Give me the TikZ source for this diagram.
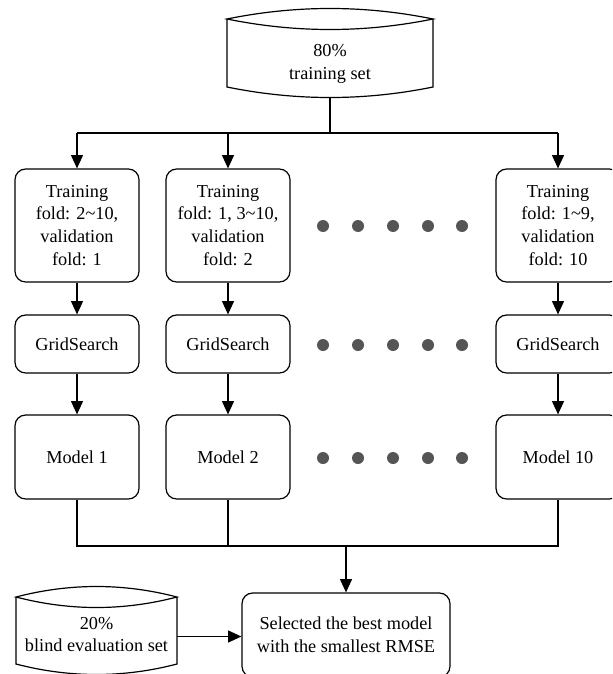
\documentclass[tikz,border=0pt]{standalone}
\usepackage{fontspec}
\setmainfont{Liberation Serif}
\usetikzlibrary{arrows.meta,calc}
\definecolor{dotgray}{HTML}{555555}
\newcommand{\dbshape}[5]{%
  \draw ($(#1.center)+(-#2,#3)$) .. controls ($(#1.center)+(-#2/3,#3-#5)$) and ($(#1.center)+(#2/3,#3-#5)$) .. ($(#1.center)+(#2,#3)$)
        .. controls ($(#1.center)+(#2/3,#3+#5)$) and ($(#1.center)+(-#2/3,#3+#5)$) .. cycle;
  \draw ($(#1.center)+(-#2,#3)$) -- ($(#1.center)+(-#2,#4)$)
        .. controls ($(#1.center)+(-#2/3,#4+#5)$) and ($(#1.center)+(#2/3,#4+#5)$) .. ($(#1.center)+(#2,#4)$)
        -- ($(#1.center)+(#2,#3)$);
}
\begin{document}
\begin{tikzpicture}[x=0.75pt,y=-0.75pt,line width=0.9pt,
  txt/.style={align=center,inner sep=0pt,font=\fontsize{13.7}{17.2}\selectfont},
  box/.style={txt,draw,rounded corners=8pt,minimum width=93pt},
  foldbox/.style={box,minimum height=84.75pt},
  gridbox/.style={box,minimum height=43.5pt},
  modelbox/.style={box,minimum height=63pt},
  arr/.style={-{Triangle[length=10pt,width=9pt]}},
  dot/.style={fill=dotgray}]
\useasboundingbox (0,0) rectangle (612,674);
\clip (0,0) rectangle (612,674);

% data sets
\node[txt] (train) at (330,64) {80\%\\training set};
\dbshape{train}{103}{-45}{23}{14}
\coordinate (trainb) at ($(train.center)+(0,33.5)$);

\node[txt] (blind) at (96.5,634.5) {20\%\\blind evaluation set};
\dbshape{blind}{80.5}{-37.5}{29.5}{14}
\coordinate (blindr) at ($(blind.center)+(80.5,2)$);

% fold boxes
\node[foldbox] (t1) at (77,225.5) {Training\\fold: 2\textasciitilde10,\\validation\\fold: 1};
\node[foldbox] (t2) at (228,225.5) {Training\\fold: 1, 3\textasciitilde10,\\validation\\fold: 2};
\node[foldbox] (t10) at (558,225.5) {Training\\fold: 1\textasciitilde9,\\validation\\fold: 10};

\node[gridbox] (g1) at (77,344) {GridSearch};
\node[gridbox] (g2) at (228,344) {GridSearch};
\node[gridbox] (g10) at (558,344) {GridSearch};

\node[modelbox] (m1) at (77,457) {Model 1};
\node[modelbox] (m2) at (228,457) {Model 2};
\node[modelbox] (m10) at (558,457) {Model 10};

\node[txt,draw,rounded corners=8pt,minimum width=156pt,minimum height=63pt] (sel) at (346,635)
  {Selected the best model\\with the smallest RMSE};

% dots
\foreach \y in {226,345,458}{
  \foreach \x in {323,358,393,428,462}{
    \fill[dot] (\x,\y) circle[radius=4.5pt];
  }
}

% connectors
\coordinate (bus1) at (330,133);
\draw (trainb) -- (bus1);
\draw (t1.north |- bus1) -- (t10.north |- bus1);
\draw[arr] (t1.north |- bus1) -- (t1.north);
\draw[arr] (t2.north |- bus1) -- (t2.north);
\draw[arr] (t10.north |- bus1) -- (t10.north);

\draw[arr] (t1) -- (g1);
\draw[arr] (t2) -- (g2);
\draw[arr] (t10) -- (g10);
\draw[arr] (g1) -- (m1);
\draw[arr] (g2) -- (m2);
\draw[arr] (g10) -- (m10);

\coordinate (bus2) at (346,546);
\draw (m1.south) -- (m1.south |- bus2) -- (m10.south |- bus2) -- (m10.south);
\draw (m2.south) -- (m2.south |- bus2);
\draw[arr] (bus2) -- (sel.north);
\draw[arr] (blindr) -- (blindr -| sel.west);
\end{tikzpicture}
\end{document}
